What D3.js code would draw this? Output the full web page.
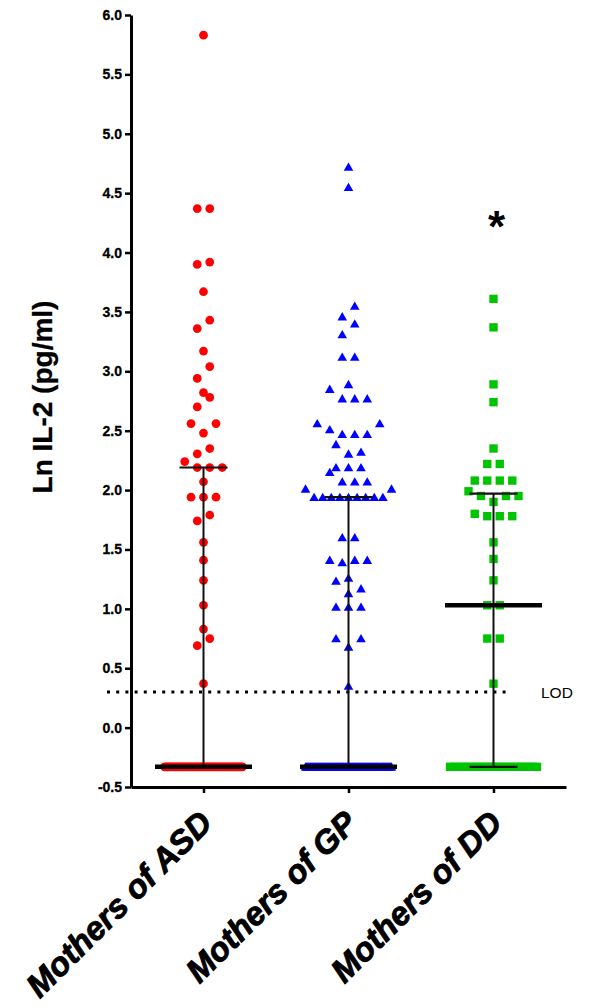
<!DOCTYPE html>
<html><head><meta charset="utf-8">
<script src="https://cdn.jsdelivr.net/npm/d3@7"></script>
<style>body{margin:0;background:#fff}svg{display:block}</style>
</head><body>
<svg id="chart" width="600" height="1008"></svg>
<script>
// ---------- data ----------
const categories = ["Mothers of ASD", "Mothers of GP", "Mothers of DD"];
const yTicks = [-0.5, 0, 0.5, 1, 1.5, 2, 2.5, 3, 3.5, 4, 4.5, 5, 5.5, 6];
const yLabel = "Ln IL-2 (pg/ml)";
const lodLabel = "LOD";
const lodValue = 0.30;
const belowLodValue = -0.33;
const belowLodCounts = [47, 102, 21];
const significance = ["", "", "*"];

const asdDetected = [0.37, 0.69, 0.75, 0.83, 1.03, 1.24, 1.41, 1.56, 1.74, 1.79,
  1.94, 1.94, 1.94, 2.07, 2.19, 2.19, 2.19, 2.24, 2.305, 2.35, 2.48, 2.56, 2.56,
  2.70, 2.78, 2.82, 2.94, 3.04, 3.17, 3.36, 3.43, 3.67, 3.90, 3.92, 4.37, 4.37, 5.83];
const gpDetected = [0.35, 0.68, 0.75, 0.75, 1.015, 1.015, 1.015, 1.13, 1.17, 1.235,
  1.26, 1.39, 1.41, 1.41, 1.41, 1.60, 1.60,
  1.94, 1.94, 1.94, 1.94, 1.94, 1.94, 1.94, 1.94, 1.94, 2.01, 2.01,
  2.07, 2.07, 2.07, 2.15, 2.19, 2.19, 2.19, 2.305, 2.32, 2.385,
  2.47, 2.47, 2.47, 2.51, 2.56, 2.56, 2.77, 2.77, 2.77, 2.85, 2.89,
  3.12, 3.12, 3.31, 3.40, 3.46, 3.55, 4.55, 4.72];
const ddDetected = [0.37, 0.75, 0.75, 1.03, 1.03, 1.24, 1.42, 1.56, 1.78, 1.78, 1.78, 1.80,
  1.90, 1.95, 1.95, 1.95, 1.99, 2.08, 2.08, 2.08, 2.08, 2.22, 2.22, 2.35, 2.74, 2.89, 3.37, 3.61];
const detected = [asdDetected, gpDetected, ddDetected];

// ---------- styles ----------
const font = "'Liberation Sans', Arial, Helvetica, sans-serif";
const groupStyles = [
  {color: "#ff0000", symbol: d3.symbolCircle, size: 60, maxSpan: 78},
  {color: "#0000ff", symbol: d3.symbolTriangle, size: 40, maxSpan: 86},
  {color: "#00c400", symbol: d3.symbolSquare, size: 70, maxSpan: 87}
];
const baseSpacing = 12.5, rowThreshold = 0.108;

const svg = d3.select("#chart");
const y = d3.scaleLinear().domain([-0.5, 6.0]).range([787, 15]);
const x = d3.scalePoint().domain(categories).range([131, 566]).padding(0.5);

// quantile with (n+1) basis
function quant(sorted, p) {
  const n = sorted.length; let r = p * (n + 1);
  if (r <= 1) return sorted[0]; if (r >= n) return sorted[n - 1];
  const lo = Math.floor(r), f = r - lo;
  return sorted[lo - 1] + f * (sorted[lo] - sorted[lo - 1]);
}
function slotOrder(n) {
  const o = [];
  if (n % 2 === 1) { const c = (n - 1) / 2; o.push(c); for (let k = 1; k <= c; k++) o.push(c + k, c - k); }
  else { const h = n / 2; for (let k = 1; k <= h; k++) { const l = h - k, r = h - 1 + k; if (k % 2) o.push(l, r); else o.push(r, l); } }
  return o;
}
function layout(values, maxSpan) {
  const pts = values.map(v => ({v})).sort((a, b) => a.v - b.v);
  const rows = []; let cur = null;
  pts.forEach(p => { if (cur && p.v - cur[0].v <= rowThreshold) cur.push(p); else { cur = [p]; rows.push(cur); } });
  rows.forEach(row => {
    const n = row.length, sp = n > 1 ? Math.min(baseSpacing, maxSpan / (n - 1)) : 0, ord = slotOrder(n);
    row.forEach((p, i) => p.dx = (ord[i] - (n - 1) / 2) * sp);
  });
  return pts;
}

// LOD line
svg.append("line").attr("x1", 107).attr("x2", 507).attr("y1", y(lodValue)).attr("y2", y(lodValue))
  .attr("stroke", "#000").attr("stroke-width", 3).attr("stroke-dasharray", "3,6.2");
svg.append("text").attr("x", 541).attr("y", y(lodValue)).attr("dy", "0.36em")
  .attr("font-family", font).attr("font-size", 15.5).text(lodLabel);

categories.forEach((cat, gi) => {
  const st = groupStyles[gi];
  const all = d3.range(belowLodCounts[gi]).map(() => belowLodValue).concat(detected[gi]);
  const pts = layout(all, st.maxSpan);
  const cx = x(cat);
  const g = svg.append("g");
  g.selectAll("path").data(pts).join("path")
    .attr("d", d3.symbol().type(st.symbol).size(st.size))
    .attr("transform", d => `translate(${cx + d.dx},${y(d.v) + (st.symbol === d3.symbolTriangle ? 1 : 0)})`)
    .attr("fill", st.color);
  const s = all.slice().sort((a, b) => a - b);
  const q1 = quant(s, 0.25), med = quant(s, 0.5), q3 = quant(s, 0.75);
  const lg = svg.append("g").attr("stroke", "#111");
  lg.append("line").attr("x1", cx).attr("x2", cx).attr("y1", y(q1)).attr("y2", y(q3)).attr("stroke-width", 2);
  [q1, q3].forEach(q => lg.append("line").attr("x1", cx - 24).attr("x2", cx + 24).attr("y1", y(q)).attr("y2", y(q)).attr("stroke-width", 2.2));
  lg.append("line").attr("x1", cx - 48.5).attr("x2", cx + 48.5).attr("y1", y(med)).attr("y2", y(med)).attr("stroke", "#000").attr("stroke-width", 4.5);
  if (significance[gi]) {
    svg.append("text").attr("x", cx + 3).attr("y", 242).attr("text-anchor", "middle")
      .attr("font-family", font).attr("font-weight", "bold").attr("font-size", 44).text(significance[gi]);
  }
});

// axes
const yAxis = svg.append("g").attr("transform", "translate(131,0)")
  .call(d3.axisLeft(y).tickValues(yTicks).tickFormat(d => d.toFixed(1)).tickSize(6).tickSizeOuter(0));
yAxis.select(".domain").attr("stroke-width", 3);
yAxis.selectAll(".tick line").attr("stroke-width", 2.5);
yAxis.selectAll(".tick text").attr("font-family", font).attr("font-weight", "bold").attr("font-size", 14)
  .attr("fill", "#000").attr("stroke", "#000").attr("stroke-width", 0.3);

const xAxis = svg.append("g").attr("transform", "translate(0,787)")
  .call(d3.axisBottom(x).tickSize(6).tickSizeOuter(0));
xAxis.select(".domain").attr("stroke-width", 3);
xAxis.selectAll(".tick line").attr("stroke-width", 2.5);
xAxis.selectAll(".tick text").attr("x", 0).attr("y", 0).attr("dy", 0)
  .attr("transform", "translate(10,38) rotate(-45)").attr("text-anchor", "end")
  .attr("font-family", font).attr("font-weight", "bold").attr("font-style", "italic").attr("font-size", 33)
  .attr("fill", "#000").attr("stroke", "#000").attr("stroke-width", 0.9);

svg.append("text").attr("transform", "translate(52,397) rotate(-90)").attr("text-anchor", "middle")
  .attr("font-family", font).attr("font-weight", "bold").attr("font-size", 28)
  .attr("stroke", "#000").attr("stroke-width", 0.3).text(yLabel);
</script>
</body></html>
